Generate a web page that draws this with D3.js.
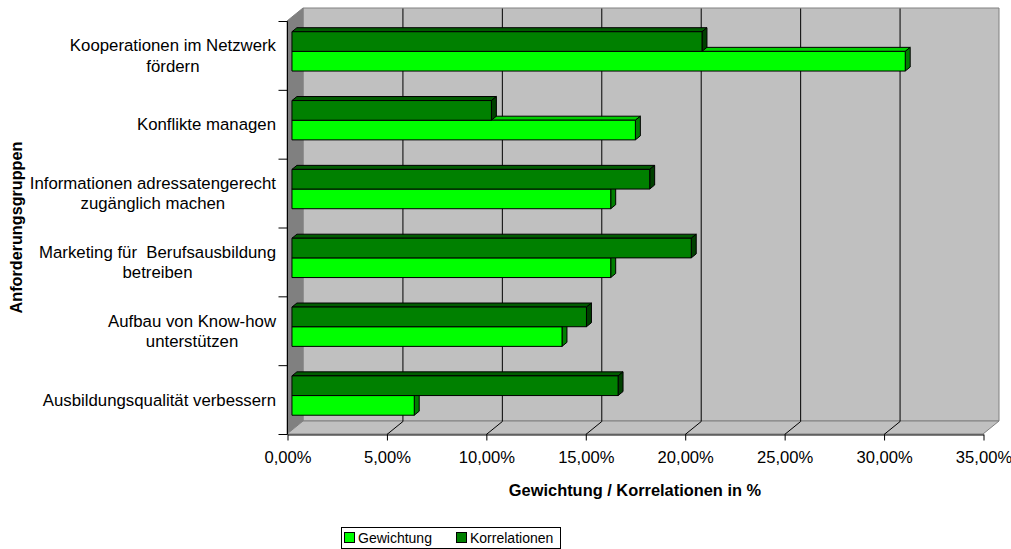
<!DOCTYPE html>
<html>
<head>
<meta charset="utf-8">
<script src="https://cdn.jsdelivr.net/npm/d3@7"></script>
<style>
  html, body { margin: 0; padding: 0; background: #ffffff; }
  svg { display: block; font-family: "Liberation Sans", Arial, sans-serif; }
  text { white-space: pre; }
</style>
</head>
<body>
<svg id="chart" width="1011" height="549"></svg>
<script>
// Requirement groups, listed from top to bottom
const categories = [
  ["Kooperationen im Netzwerk", "fördern"],
  ["Konflikte managen"],
  ["Informationen adressatengerecht", "zugänglich machen"],
  ["Marketing für  Berufsausbildung", "betreiben"],
  ["Aufbau von Know-how", "unterstützen"],
  ["Ausbildungsqualität verbessern"]
];
// Share values (fractions) per requirement group
const gewichtung    = [0.3084, 0.1727, 0.1603, 0.1603, 0.1358, 0.0615];
const korrelationen = [0.2062, 0.1003, 0.1799, 0.2008, 0.1481, 0.1640];
const seriesNames = ["Gewichtung", "Korrelationen"];
const xTicks = [0, 0.05, 0.10, 0.15, 0.20, 0.25, 0.30, 0.35];

const svg = d3.select("#chart");

// Front plane of the 3D box and the depth offset
const pLeft = 287, pRight = 983, pTop = 21, pBottom = 434;
const depthX = 16, depthY = -13;
const P = (px, py, z) => [px + depthX * z, py + depthY * z];

const x = d3.scaleLinear().domain([0, 0.35]).range([pLeft, pRight]);
const keys = categories.map((c, i) => "c" + i);
const y = d3.scaleBand().domain(keys).range([pTop, pBottom]);

const line = d3.line();

// Back wall
svg.append("path")
  .attr("d", line([P(pLeft, pTop, 1), P(pRight, pTop, 1), P(pRight, pBottom, 1), P(pLeft, pBottom, 1)]) + "Z")
  .attr("fill", "#c0c0c0").attr("stroke", "#808080").attr("stroke-width", 1);
// Side wall
svg.append("path")
  .attr("d", line([P(pLeft, pTop, 0), P(pLeft, pTop, 1), P(pLeft, pBottom, 1), P(pLeft, pBottom, 0)]) + "Z")
  .attr("fill", "#808080").attr("stroke", "#808080").attr("stroke-width", 1);
// Floor
svg.append("path")
  .attr("d", line([P(pLeft, pBottom, 0), P(pLeft, pBottom, 1), P(pRight, pBottom, 1), P(pRight, pBottom, 0)]) + "Z")
  .attr("fill", "#c0c0c0").attr("stroke", "#808080").attr("stroke-width", 1);

// Grid lines on the back wall and floor
const inner = xTicks.filter(t => t > 0 && t < 0.35);
svg.append("g").selectAll("path").data(inner).join("path")
  .attr("d", t => line([P(x(t), pBottom, 0), P(x(t), pBottom, 1), P(x(t), pTop, 1)]))
  .attr("fill", "none").attr("stroke", "#000").attr("stroke-width", 1)
  .attr("transform", "translate(0.5,0.5)");

// Bars
const fz0 = 0.31, fz1 = 0.62;
const bh = y.bandwidth() / 3.5;
const colors = {
  Gewichtung:    { front: "#00ff00", top: "#00d000", side: "#008000" },
  Korrelationen: { front: "#008000", top: "#005c00", side: "#004000" }
};
const bars = [];
categories.forEach((c, i) => {
  const b0 = y(keys[i]);
  // lower bar first, then the upper bar resting on it
  bars.push({ s: "Gewichtung", v: gewichtung[i], yf: b0 + 1.75 * bh });
  bars.push({ s: "Korrelationen", v: korrelationen[i], yf: b0 + 0.75 * bh });
});
const gb = svg.append("g").attr("stroke", "#000").attr("stroke-width", 1).attr("stroke-linejoin", "miter");
bars.forEach(d => {
  const x0 = x(0), x1 = x(d.v), yt = d.yf, yb = d.yf + bh;
  const c = colors[d.s];
  gb.append("path").attr("fill", c.top)
    .attr("d", line([P(x0, yt, fz0), P(x0, yt, fz1), P(x1, yt, fz1), P(x1, yt, fz0)]) + "Z");
  gb.append("path").attr("fill", c.side)
    .attr("d", line([P(x1, yt, fz0), P(x1, yt, fz1), P(x1, yb, fz1), P(x1, yb, fz0)]) + "Z");
  gb.append("path").attr("fill", c.front)
    .attr("d", line([P(x0, yt, fz0), P(x1, yt, fz0), P(x1, yb, fz0), P(x0, yb, fz0)]) + "Z");
});

// Value axis
const fmt = d3.formatLocale({ decimal: ",", thousands: ".", grouping: [3], currency: ["", "€"] }).format(".2%");
const xAxis = svg.append("g").attr("transform", `translate(0.5,${pBottom + 0.5})`)
  .call(d3.axisBottom(x).tickValues(xTicks).tickFormat(fmt).tickSize(6).tickSizeOuter(0).tickPadding(11));
xAxis.select(".domain").attr("stroke", "#000");
xAxis.selectAll(".tick line").attr("stroke", "#000");
xAxis.selectAll("text").attr("font-size", "16.6px").attr("fill", "#000")
  .attr("font-family", "Liberation Sans, Arial, sans-serif");

// Category axis line and boundary ticks
const edges = keys.map(k => y(k)).concat([pBottom]);
const ya = svg.append("g").attr("transform", "translate(0.5,0.5)");
ya.append("line").attr("x1", pLeft).attr("x2", pLeft).attr("y1", pTop).attr("y2", pBottom).attr("stroke", "#000");
ya.selectAll("line.tk").data(edges).join("line").attr("class", "tk")
  .attr("x1", pLeft - 9).attr("x2", pLeft).attr("y1", d => d).attr("y2", d => d).attr("stroke", "#000");

// Category labels: centred lines, block aligned to the right
const labelRight = 276, lh = 20.3;
categories.forEach((lines, i) => {
  const cy = y(keys[i]) + y.bandwidth() / 2;
  const g = svg.append("g");
  const texts = lines.map((s, j) => g.append("text")
    .attr("font-size", "16.8px").attr("text-anchor", "middle")
    .attr("y", cy + 6 + (j - (lines.length - 1) / 2) * lh)
    .text(s));
  const w = d3.max(texts, t => t.node().getComputedTextLength());
  texts.forEach(t => t.attr("x", labelRight - w / 2));
});

// Axis titles
svg.append("text").attr("x", (pLeft + pRight) / 2).attr("y", 496)
  .attr("text-anchor", "middle").attr("font-weight", "bold").attr("font-size", "16.4px")
  .text("Gewichtung / Korrelationen in %");
svg.append("text").attr("transform", `translate(22,${(pTop + pBottom) / 2}) rotate(-90)`)
  .attr("text-anchor", "middle").attr("font-weight", "bold").attr("font-size", "16.2px")
  .text("Anforderungsgruppen");

// Legend
const lg = svg.append("g").attr("transform", "translate(341,527)");
lg.append("rect").attr("x", 0.5).attr("y", 0.5).attr("width", 219).attr("height", 21)
  .attr("fill", "#fff").attr("stroke", "#000");
const items = [
  { name: seriesNames[0], color: colors.Gewichtung.front, x: 3 },
  { name: seriesNames[1], color: colors.Korrelationen.front, x: 115 }
];
items.forEach(it => {
  lg.append("rect").attr("x", it.x + 0.5).attr("y", 5.5).attr("width", 10).attr("height", 10)
    .attr("fill", it.color).attr("stroke", "#000");
  lg.append("text").attr("x", it.x + 14).attr("y", 16).attr("font-size", "14px").text(it.name);
});
</script>
</body>
</html>
